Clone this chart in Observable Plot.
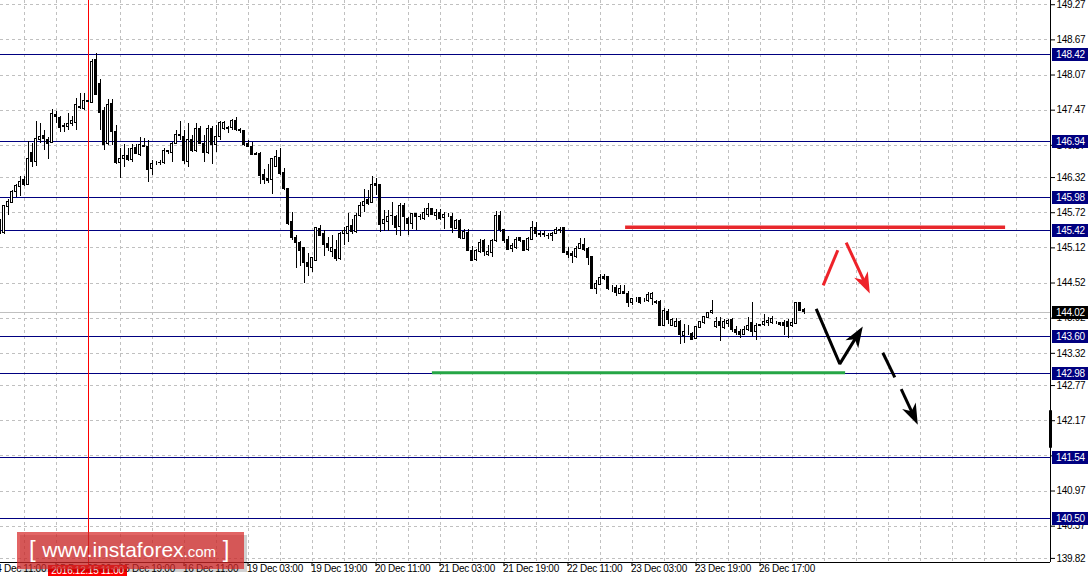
<!DOCTYPE html>
<html><head><meta charset="utf-8">
<script src="https://cdn.jsdelivr.net/npm/d3@7"></script>
<script src="https://cdn.jsdelivr.net/npm/@observablehq/plot@0.6"></script>
<style>
html,body{margin:0;padding:0;background:#fff;}
#chart{position:relative;width:1090px;height:583px;overflow:hidden;}
</style></head><body><div id="chart"></div>
<script>
// ---------- data (H1 bars, index -1 .. 200) ----------
const firstBar = -1;
const opens = [
145.38,145.37,145.81,145.89,146.07,146.16,146.27,146.20,146.74,146.59,
146.96,147.03,146.96,146.91,147.39,147.34,147.19,147.18,147.23,147.25,
147.53,147.49,147.62,147.60,148.32,147.92,147.45,146.90,147.57,147.10,
146.57,146.63,146.68,146.62,146.82,146.71,146.86,146.84,146.47,146.56,
146.56,146.56,146.77,146.74,146.90,147.04,147.02,146.58,146.96,146.77,
147.15,146.90,146.74,147.15,146.87,147.01,147.15,147.16,147.17,147.28,
147.13,147.11,146.90,146.85,146.71,146.72,146.37,146.29,146.28,146.50,
146.65,146.39,146.12,145.57,145.29,145.20,145.12,144.86,144.78,144.90,
145.44,145.36,145.18,145.05,145.08,144.93,145.35,145.35,145.50,145.39,
145.67,145.84,145.93,145.89,146.21,146.20,145.53,145.56,145.66,145.65,
145.47,145.84,145.62,145.53,145.70,145.64,145.62,145.68,145.79,145.67,
145.71,145.63,145.68,145.65,145.44,145.58,145.27,145.37,145.07,144.92,
145.05,145.23,144.99,145.04,145.23,145.67,145.42,145.26,145.10,145.12,
145.29,145.23,145.09,145.26,145.46,145.35,145.34,145.33,145.32,145.36,
145.40,145.46,145.05,145.02,144.96,145.10,145.17,145.10,144.96,144.42,
144.48,144.62,144.63,144.45,144.43,144.34,144.37,144.34,144.18,144.23,
144.26,144.21,144.21,144.25,144.19,144.19,143.79,144.02,143.79,143.77,
143.85,143.62,143.66,143.65,143.57,143.76,143.84,143.93,144.00,143.77,
143.85,143.76,143.82,143.89,143.71,143.68,143.64,143.72,143.83,143.68,
143.79,143.81,143.83,143.84,143.84,143.84,143.83,143.85,143.78,143.82,
144.18,144.06];
const highs = [
145.60,145.84,145.94,146.10,146.21,146.33,146.34,146.94,146.90,147.28,
147.25,147.13,147.00,147.48,147.44,147.36,147.24,147.41,147.37,147.67,
147.75,147.75,147.64,148.33,148.43,147.99,147.52,147.65,147.65,147.21,
146.81,146.88,146.81,146.88,146.88,147.00,146.98,146.96,146.61,146.59,
146.61,146.81,146.78,146.92,147.12,147.27,147.12,147.24,147.04,147.25,
147.19,147.04,147.21,147.19,147.21,147.27,147.27,147.19,147.31,147.34,
147.15,147.12,146.95,146.91,146.75,146.74,146.45,146.55,146.64,146.78,
146.81,146.47,146.13,145.73,145.33,145.23,145.12,145.02,144.96,145.47,
145.51,145.42,145.30,145.33,145.25,145.39,145.47,145.70,145.60,145.70,
145.90,146.12,146.10,146.33,146.31,146.21,145.75,145.76,145.90,145.67,
145.87,145.88,145.63,145.71,145.71,145.69,145.79,145.87,145.80,145.77,
145.77,145.73,145.71,145.71,145.60,145.60,145.44,145.44,145.14,145.09,
145.27,145.27,145.16,145.26,145.74,145.74,145.44,145.32,145.19,145.29,
145.30,145.25,145.29,145.57,145.56,145.40,145.40,145.36,145.39,145.46,
145.47,145.47,145.13,145.06,145.15,145.28,145.28,145.13,144.96,144.56,
144.66,144.66,144.63,144.47,144.48,144.47,144.48,144.37,144.26,144.28,
144.28,144.25,144.36,144.35,144.22,144.22,144.08,144.06,143.91,143.91,
143.88,143.82,143.79,143.68,143.78,143.87,143.95,144.02,144.23,143.93,
143.94,143.89,143.89,143.91,143.78,143.72,143.78,143.93,144.18,143.83,
143.82,143.99,143.94,143.95,143.87,143.85,143.88,143.89,143.92,144.19,
144.19,144.08];
const lows = [
145.34,145.35,145.67,145.87,145.98,146.00,146.16,146.19,146.49,146.51,
146.90,146.78,146.63,146.90,147.24,147.09,147.09,147.13,147.19,147.12,
147.49,147.46,147.60,147.58,147.72,147.13,146.79,146.87,146.87,146.55,
146.31,146.50,146.59,146.57,146.71,146.68,146.83,146.23,146.35,146.53,
146.53,146.55,146.72,146.58,146.88,146.95,146.55,146.50,146.75,146.75,
146.88,146.57,146.72,146.55,146.75,146.95,147.12,147.07,147.12,147.11,
147.07,146.85,146.83,146.70,146.69,146.21,146.20,146.22,146.03,146.49,
146.35,146.10,145.50,145.25,144.76,144.80,144.51,144.63,144.70,144.88,
145.31,144.97,145.05,144.95,144.89,144.90,145.16,145.22,145.35,145.37,
145.64,145.73,145.84,145.87,146.01,145.39,145.40,145.40,145.51,145.33,
145.31,145.42,145.33,145.43,145.42,145.59,145.59,145.64,145.67,145.58,
145.59,145.43,145.64,145.36,145.43,145.27,145.26,145.06,144.88,144.88,
145.02,144.97,144.97,144.96,145.22,145.39,145.19,145.08,145.04,145.10,
145.21,145.05,145.06,145.26,145.29,145.29,145.29,145.27,145.23,145.34,
145.36,145.02,144.94,144.86,144.94,145.09,145.05,144.82,144.41,144.32,
144.47,144.56,144.39,144.35,144.29,144.32,144.32,144.11,144.14,144.18,
144.15,144.18,144.18,144.14,144.16,143.77,143.78,143.82,143.78,143.76,
143.47,143.48,143.62,143.54,143.55,143.74,143.82,143.91,143.98,143.74,
143.53,143.72,143.76,143.68,143.62,143.57,143.62,143.70,143.60,143.54,
143.78,143.78,143.78,143.82,143.82,143.78,143.62,143.57,143.76,143.81,
144.04,143.99];
const closes = [
145.55,145.83,145.91,146.08,146.17,146.25,146.20,146.64,146.59,146.97,
147.02,146.97,146.89,147.41,147.35,147.17,147.20,147.23,147.28,147.55,
147.50,147.63,147.61,148.30,147.73,147.42,146.88,147.55,147.09,146.57,
146.64,146.69,146.62,146.80,146.72,146.88,146.85,146.45,146.55,146.56,
146.57,146.78,146.75,146.90,147.04,147.03,146.60,146.96,146.77,147.15,
146.90,146.74,147.15,146.87,147.01,147.25,147.25,147.15,147.29,147.13,
147.12,146.87,146.85,146.71,146.72,146.35,146.28,146.26,146.64,146.67,
146.38,146.12,145.53,145.29,145.20,145.07,144.86,144.79,144.94,145.46,
145.33,145.17,145.12,145.12,144.93,145.35,145.41,145.48,145.39,145.67,
145.84,145.91,145.87,146.20,146.18,145.51,145.59,145.65,145.67,145.46,
145.84,145.64,145.53,145.70,145.64,145.65,145.71,145.79,145.68,145.71,
145.62,145.68,145.68,145.46,145.58,145.29,145.39,145.07,144.89,145.06,
145.20,145.05,145.05,145.23,145.67,145.42,145.23,145.09,145.16,145.26,
145.23,145.06,145.27,145.46,145.36,145.34,145.35,145.32,145.36,145.43,
145.43,145.03,145.00,144.98,145.10,145.19,145.09,144.94,144.42,144.51,
144.60,144.59,144.41,144.45,144.35,144.42,144.34,144.18,144.24,144.23,
144.18,144.21,144.32,144.33,144.18,143.78,144.05,143.89,143.89,143.85,
143.64,143.68,143.66,143.55,143.77,143.85,143.94,144.00,144.05,143.85,
143.78,143.85,143.88,143.71,143.66,143.64,143.72,143.79,143.69,143.78,
143.80,143.85,143.88,143.91,143.84,143.81,143.79,143.77,143.83,144.18,
144.05,144.02];

const xTickBars = [-3,13,29,45,61,77,93,109,125,141,157,173,189];
const xTickLabels = ["14 Dec 11:00","15 Dec 03:00","15 Dec 19:00","16 Dec 11:00","19 Dec 03:00","19 Dec 19:00",
  "20 Dec 11:00","21 Dec 03:00","21 Dec 19:00","22 Dec 11:00","23 Dec 03:00","23 Dec 19:00","26 Dec 17:00"];
const xGridBars = [5,13,21,29,37,45,53,61,69,77,85,93,101,109,117,125,133,141,149,157,165,173,181,189,197,205,213,221,229,237,245,253];
const yTickValues = [149.27,148.67,148.07,147.47,146.87,146.32,145.72,145.12,144.52,143.92,143.32,142.77,142.17,141.57,140.97,140.37,139.82];
const levelPrices = [148.42,146.94,145.98,145.42,143.60,142.98,141.54,140.50];
const lastPrice = 144.02;
const cursorBar = 21;
const cursorLabel = "2016.12.15 11:00";
const resistanceLine = [{from:155.4, to:250.4, price:145.47}];
const supportLine = [{from:107.1, to:210.4, price:142.99}];
const redRise = [[204.8,144.48],[208.45,145.08]];
const redFall = [[210.55,145.21],[216.45,144.34]];
const blackZig = [[203.05,144.08],[208.95,143.14],[214.7,143.78]];
const blackDash1 = [[219.7,143.33],[222.7,142.91]];
const blackDash2 = [[224.3,142.71],[228.45,142.10]];
const scrollMark = [142.34,141.70];

// ---------- layout ----------
const W = 1090, H = 583, mR = 40, mB = 21;
const xDomain = [-0.875, 261.625];
const yDomain = [139.75, 149.342];
const sx = d3.scaleLinear(xDomain, [0, W - mR]);
const sy = d3.scaleLinear(yDomain, [H - mB, 0]);

const bars = opens.map((o, j) => ({i: firstBar + j, o, h: highs[j], l: lows[j], c: closes[j]}));
const upBars = bars.filter(d => d.c >= d.o);
const downBars = bars.filter(d => d.c < d.o);
const xTicks = xTickBars.map((i, j) => ({i, label: xTickLabels[j]}));

const arrowHead = {draw(ctx) { ctx.moveTo(0,0); ctx.lineTo(7.5,21); ctx.lineTo(0,15); ctx.lineTo(-7.5,21); ctx.closePath(); }};
function arrowParts(pts) {
  const n = pts.length;
  const x0 = sx(pts[n-2][0]), y0 = sy(pts[n-2][1]);
  const x1 = sx(pts[n-1][0]), y1 = sy(pts[n-1][1]);
  const len = Math.hypot(x1-x0, y1-y0), ux = (x1-x0)/len, uy = (y1-y0)/len;
  const shaft = pts.slice(0, -1).concat([[sx.invert(x1 - ux*12), sy.invert(y1 - uy*12)]]);
  const head = [{x: pts[n-1][0], y: pts[n-1][1], angle: Math.atan2(ux, -uy) * 180 / Math.PI}];
  return {shaft, head};
}
const rf = arrowParts(redFall), bz = arrowParts(blackZig), bd = arrowParts(blackDash2);
const lineOpts = (stroke) => ({x: d => d[0], y: d => d[1], stroke, strokeWidth: 3, strokeLinecap: "butt", strokeLinejoin: "miter"});
const headOpts = (fill) => ({x: "x", y: "y", rotate: "angle", symbol: arrowHead, fill, stroke: null});

const crisp = {shapeRendering: "crispEdges"};
const plot = Plot.plot({
  width: W, height: H, marginLeft: 0, marginRight: mR, marginTop: 0, marginBottom: mB,
  x: {domain: xDomain},
  y: {domain: yDomain},
  style: {fontFamily: "'Liberation Sans', Arial, sans-serif", fontSize: "10px", background: "#fff", color: "#000", letterSpacing: "-0.3px"},
  marks: [
    Plot.ruleY(yTickValues, {stroke: "#c0c0c0", strokeDasharray: "3,3", ...crisp}),
    Plot.ruleX(xGridBars, {stroke: "#c0c0c0", strokeDasharray: "3,3", ...crisp}),
    Plot.ruleY([lastPrice], {stroke: "#c0c0c0", ...crisp}),
    Plot.ruleY(levelPrices, {stroke: "#000080", ...crisp}),
    Plot.ruleX([cursorBar], {y1: yDomain[1], y2: sy.invert(H - mB + 4), stroke: "#ff0000", ...crisp}),
    Plot.ruleY(resistanceLine, {y: "price", x1: "from", x2: "to", stroke: "#e8282c", strokeWidth: 3.5}),
    Plot.ruleY(supportLine, {y: "price", x1: "from", x2: "to", stroke: "#26a646", strokeWidth: 3}),
    Plot.ruleX(bars, {x: "i", y1: "l", y2: "h", stroke: "#000", ...crisp}),
    Plot.rect(upBars, {x1: d => d.i - 0.25, x2: d => d.i + 0.25, y1: "o", y2: "c", fill: "#fff", stroke: "#000", ...crisp}),
    Plot.rect(downBars, {x1: d => d.i - 0.25, x2: d => d.i + 0.25, y1: "c", y2: "o", fill: "#000", stroke: "#000", ...crisp}),
    Plot.line(redRise, lineOpts("#ee2229")),
    Plot.line(rf.shaft, lineOpts("#ee2229")),
    Plot.dot(rf.head, headOpts("#ee2229")),
    Plot.line(bz.shaft, lineOpts("#000")),
    Plot.dot(bz.head, headOpts("#000")),
    Plot.line(blackDash1, lineOpts("#000")),
    Plot.line(bd.shaft, lineOpts("#000")),
    Plot.dot(bd.head, headOpts("#000")),
    Plot.axisY({anchor: "right", ticks: yTickValues, tickFormat: d => d.toFixed(2), tickSize: 4, tickPadding: 2, label: null}),
    Plot.axisX({ticks: xTickBars, tickSize: 4, tickFormat: () => "", label: null}),
    Plot.text(xTicks, {x: "i", text: "label", frameAnchor: "bottom", textAnchor: "start", dy: 9.5, dx: -1, fill: "#000"}),
    Plot.ruleX([xDomain[1]], {stroke: "#000", ...crisp}),
    Plot.ruleY([yDomain[0]], {stroke: "#000", ...crisp}),
    Plot.ruleX([xDomain[1]], {y1: scrollMark[0], y2: scrollMark[1], stroke: "#000", strokeWidth: 3})
  ]
});
document.getElementById("chart").appendChild(plot);

// ---------- right-axis level labels, cursor label, watermark ----------
const xs = plot.scale("x"), ys = plot.scale("y");
const svg = d3.select(plot);
const axX = xs.apply(xDomain[1]);
const boxes = levelPrices.map(v => ({v, bg: "#000080"})).concat([{v: lastPrice, bg: "#000"}]);
const gL = svg.append("g").attr("font-size", 10).attr("text-anchor", "start");
boxes.forEach(b => {
  const y = ys.apply(b.v);
  gL.append("rect").attr("x", axX + 2).attr("y", Math.round(y) - 6).attr("width", 36).attr("height", 13).attr("fill", b.bg);
  gL.append("text").attr("x", axX + 6).attr("y", Math.round(y) + 0.5).attr("dy", "0.35em").attr("fill", "#fff").text(b.v.toFixed(2));
});
const cx = xs.apply(cursorBar);
svg.append("rect").attr("x", cx - 39.5).attr("y", H - mB + 3).attr("width", 79).attr("height", 11).attr("fill", "#ff0000");
svg.append("text").attr("x", cx).attr("y", H - mB + 8.5).attr("dy", "0.35em").attr("text-anchor", "middle").attr("fill", "#fff").attr("font-size", 10).text(cursorLabel);

const wm = svg.append("g").style("letter-spacing", "0px").attr("text-anchor", "start");
wm.append("rect").attr("x", 20).attr("y", 535).attr("width", 227).attr("height", 37).attr("fill", "rgba(0,0,0,0.18)");
wm.append("rect").attr("x", 17).attr("y", 532).attr("width", 227).attr("height", 37).attr("fill", "rgba(215,40,40,0.72)");
const t = wm.append("text").attr("x", 29).attr("y", 557).attr("fill", "#fff").attr("font-family", "'Liberation Sans', Arial, sans-serif");
t.append("tspan").attr("font-size", 24).text("[ ");
t.append("tspan").attr("font-size", 21).text("www.instaforex");
t.append("tspan").attr("font-size", 15).text(".com");
t.append("tspan").attr("font-size", 24).text(" ]");
</script></body></html>
